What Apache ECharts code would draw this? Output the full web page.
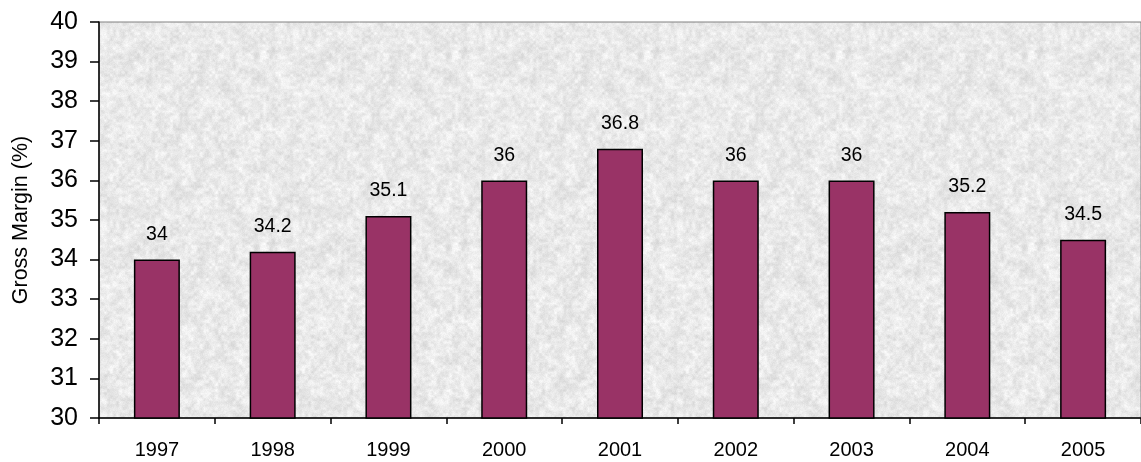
<!DOCTYPE html>
<html>
<head>
<meta charset="utf-8">
<script src="https://cdn.jsdelivr.net/npm/echarts@6/dist/echarts.min.js"></script>
<style>
  html, body { margin: 0; padding: 0; background: #ffffff; }
  #chart { width: 1141px; height: 462px; }
</style>
</head>
<body>
<div id="chart"></div>
<script>
// Gross margin by year
const years = ['1997', '1998', '1999', '2000', '2001', '2002', '2003', '2004', '2005'];
const grossMargin = [34, 34.2, 35.1, 36, 36.8, 36, 36, 35.2, 34.5];
const yTicks = { min: 30, max: 40, step: 1 };

// Granite-style fill for the plot area, built from a deterministic hash noise
function hash(x, y) {
  let h = Math.imul(x, 374761393) + Math.imul(y, 668265263);
  h = Math.imul(h ^ (h >>> 13), 1274126177);
  h = h ^ (h >>> 16);
  return (h >>> 0) / 4294967295;
}
function valueNoise(x, y, cell, period, seed) {
  const gx = x / cell, gy = y / cell;
  const x0 = Math.floor(gx), y0 = Math.floor(gy);
  const fx = gx - x0, fy = gy - y0;
  const n = period / cell;
  const w = (a) => ((a % n) + n) % n;
  const s = (t) => t * t * (3 - 2 * t);
  const a = hash(w(x0) + seed, w(y0));
  const b = hash(w(x0 + 1) + seed, w(y0));
  const c = hash(w(x0) + seed, w(y0 + 1));
  const d = hash(w(x0 + 1) + seed, w(y0 + 1));
  const u = s(fx), v = s(fy);
  return (a * (1 - u) + b * u) * (1 - v) + (c * (1 - u) + d * u) * v;
}
function graniteCanvas() {
  const size = 192;
  const cv = document.createElement('canvas');
  cv.width = size; cv.height = size;
  const ctx = cv.getContext('2d');
  const img = ctx.createImageData(size, size);
  for (let y = 0; y < size; y++) {
    for (let x = 0; x < size; x++) {
      const n = 0.45 * valueNoise(x, y, 3, size, 11) +
                0.35 * valueNoise(x, y, 8, size, 977) +
                0.20 * hash(x + 5003, y + 71);
      const g = Math.round(233 + (n - 0.5) * 48);
      const i = (y * size + x) * 4;
      img.data[i] = g; img.data[i + 1] = g; img.data[i + 2] = g; img.data[i + 3] = 255;
    }
  }
  ctx.putImageData(img, 0, 0);
  return cv;
}

const chart = echarts.init(document.getElementById('chart'), null, { renderer: 'canvas' });
const font = 'Arial, "Liberation Sans", sans-serif';

chart.setOption({
  animation: false,
  backgroundColor: '#ffffff',
  grid: {
    left: 99, right: -8, top: 22, bottom: 44,
    show: true,
    backgroundColor: { image: graniteCanvas(), repeat: 'repeat' },
    borderColor: '#808080',
    borderWidth: 1
  },
  xAxis: {
    type: 'category',
    data: years,
    axisLine: { show: true, lineStyle: { color: '#000000', width: 1.5 } },
    axisTick: { show: true, alignWithLabel: false, length: 6, lineStyle: { color: '#000000', width: 1.5 } },
    axisLabel: { color: '#000000', fontSize: 20, fontFamily: font, margin: 22 },
    splitLine: { show: false }
  },
  yAxis: {
    type: 'value',
    min: yTicks.min, max: yTicks.max, interval: yTicks.step,
    name: 'Gross Margin (%)',
    nameLocation: 'middle',
    nameRotate: 90,
    nameGap: 67,
    nameTextStyle: { color: '#000000', fontSize: 21.5, fontFamily: font },
    axisLine: { show: true, lineStyle: { color: '#000000', width: 1.5 } },
    axisTick: { show: true, inside: false, length: 9, lineStyle: { color: '#000000', width: 1.5 } },
    axisLabel: { color: '#000000', fontSize: 25, fontFamily: font, margin: 21 },
    splitLine: { show: false }
  },
  series: [{
    type: 'bar',
    data: grossMargin,
    barWidth: 46,
    itemStyle: { color: '#993366', borderColor: '#000000', borderWidth: 1.5 },
    label: {
      show: true,
      position: 'top',
      distance: 15,
      color: '#000000',
      fontSize: 19.5,
      fontFamily: font
    }
  }]
});
</script>
</body>
</html>
